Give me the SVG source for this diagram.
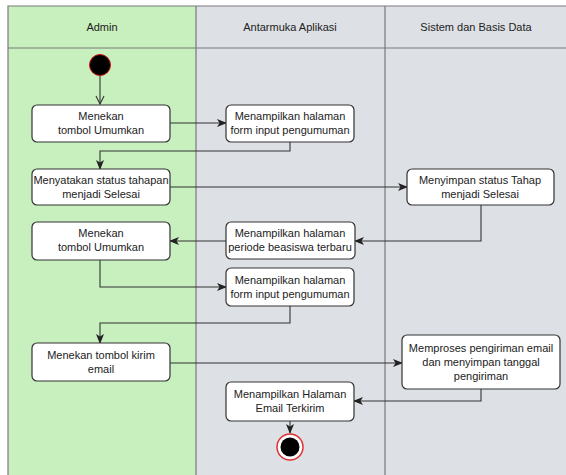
<svg xmlns="http://www.w3.org/2000/svg" width="566" height="475" viewBox="0 0 566 475">
  <style>
    .lane-admin { fill: #c8efbe; }
    .lane-gray { fill: #dde1e6; }
    .lane-line { stroke: #7a7a7a; stroke-width: 1.2; fill: none; }
    .hdr { font-family: "Liberation Sans", Arial, sans-serif; font-size: 11px; fill: #222; text-anchor: middle; }
    .box { fill: #ffffff; stroke: #333333; stroke-width: 1.2; }
    .lbl { font-family: "Liberation Sans", Arial, sans-serif; font-size: 11px; fill: #222; text-anchor: middle; }
    .conn { stroke: #333333; stroke-width: 1.1; fill: none; }
  </style>
  <defs>
    <marker id="arrow" viewBox="0 0 10 8" refX="9" refY="4" markerWidth="10" markerHeight="8" markerUnits="userSpaceOnUse" orient="auto">
      <path d="M0,0 L10,4 L0,8 L2.5,4 z" fill="#222"/>
    </marker>
    <marker id="open" viewBox="0 0 10 10" refX="9" refY="5" markerWidth="10" markerHeight="10" markerUnits="userSpaceOnUse" orient="auto">
      <path d="M1,1 L9,5 L1,9" fill="none" stroke="#333" stroke-width="1.1"/>
    </marker>
  </defs>

  <!-- swimlanes -->
  <g id="lanes">
    <rect class="lane-admin" x="8" y="6" width="188" height="470"/>
    <rect class="lane-gray" x="196" y="6" width="189" height="470"/>
    <rect class="lane-gray" x="385" y="6" width="182" height="470"/>
    <path class="lane-line" d="M8,476 V6 H567 M196,6 V476 M385,6 V476 M8,48 H567"/>
    <text class="hdr" x="102" y="31">Admin</text>
    <text class="hdr" x="290" y="31">Antarmuka Aplikasi</text>
    <text class="hdr" x="476" y="31">Sistem dan Basis Data</text>
  </g>

  <!-- connectors -->
  <g id="connectors">
    <path class="conn" d="M100,76 V104" marker-end="url(#open)"/>
    <path class="conn" d="M170,123 H226" marker-end="url(#arrow)"/>
    <path class="conn" d="M290,142 V151 H100 V169" marker-end="url(#arrow)"/>
    <path class="conn" d="M170,187 H407" marker-end="url(#arrow)"/>
    <path class="conn" d="M481,205 V241 H355" marker-end="url(#arrow)"/>
    <path class="conn" d="M226,241 H170" marker-end="url(#arrow)"/>
    <path class="conn" d="M100,260 V287 H226" marker-end="url(#arrow)"/>
    <path class="conn" d="M290,306 V323 H100 V343" marker-end="url(#arrow)"/>
    <path class="conn" d="M170,363 H402" marker-end="url(#arrow)"/>
    <path class="conn" d="M481,389 V401 H354" marker-end="url(#arrow)"/>
    <path class="conn" d="M290,421 V433" marker-end="url(#arrow)"/>
  </g>

  <!-- start node -->
  <g id="start">
    <circle cx="100" cy="65" r="10.5" fill="#000" stroke="#cc1111" stroke-width="1"/>
  </g>

  <g id="admin-umumkan-1">
    <rect class="box" x="32" y="105" width="138" height="37" rx="5"/>
    <text class="lbl" x="101" y="120">Menekan</text>
    <text class="lbl" x="101" y="134">tombol Umumkan</text>
  </g>

  <g id="ui-form-1">
    <rect class="box" x="226" y="105" width="128" height="37" rx="5"/>
    <text class="lbl" x="290" y="120">Menampilkan halaman</text>
    <text class="lbl" x="290" y="134">form input pengumuman</text>
  </g>

  <g id="admin-status">
    <rect class="box" x="32" y="169" width="138" height="36" rx="5"/>
    <text class="lbl" x="101" y="184">Menyatakan status tahapan</text>
    <text class="lbl" x="101" y="198">menjadi Selesai</text>
  </g>

  <g id="sys-simpan-status">
    <rect class="box" x="407" y="169" width="147" height="36" rx="5"/>
    <text class="lbl" x="480" y="184">Menyimpan status Tahap</text>
    <text class="lbl" x="480" y="198">menjadi Selesai</text>
  </g>

  <g id="ui-periode">
    <rect class="box" x="226" y="222" width="129" height="37" rx="5"/>
    <text class="lbl" x="290" y="237">Menampilkan halaman</text>
    <text class="lbl" x="290" y="251">periode beasiswa terbaru</text>
  </g>

  <g id="admin-umumkan-2">
    <rect class="box" x="32" y="222" width="138" height="38" rx="5"/>
    <text class="lbl" x="101" y="237">Menekan</text>
    <text class="lbl" x="101" y="251">tombol Umumkan</text>
  </g>

  <g id="ui-form-2">
    <rect class="box" x="226" y="268" width="128" height="38" rx="5"/>
    <text class="lbl" x="290" y="284">Menampilkan halaman</text>
    <text class="lbl" x="290" y="298">form input pengumuman</text>
  </g>

  <g id="admin-kirim-email">
    <rect class="box" x="32" y="343" width="138" height="38" rx="5"/>
    <text class="lbl" x="101" y="359">Menekan tombol kirim</text>
    <text class="lbl" x="101" y="373">email</text>
  </g>

  <g id="sys-proses-email">
    <rect class="box" x="402" y="335" width="158" height="54" rx="5"/>
    <text class="lbl" x="481" y="352">Memproses pengiriman email</text>
    <text class="lbl" x="481" y="366">dan menyimpan tanggal</text>
    <text class="lbl" x="481" y="380">pengiriman</text>
  </g>

  <g id="ui-email-terkirim">
    <rect class="box" x="226" y="382" width="128" height="39" rx="5"/>
    <text class="lbl" x="290" y="398">Menampilkan Halaman</text>
    <text class="lbl" x="290" y="412">Email Terkirim</text>
  </g>

  <!-- end node -->
  <g id="end">
    <circle cx="290" cy="447" r="13" fill="#ffffff" stroke="#e03030" stroke-width="1.5"/>
    <circle cx="290" cy="447" r="9.5" fill="#000"/>
  </g>
</svg>
